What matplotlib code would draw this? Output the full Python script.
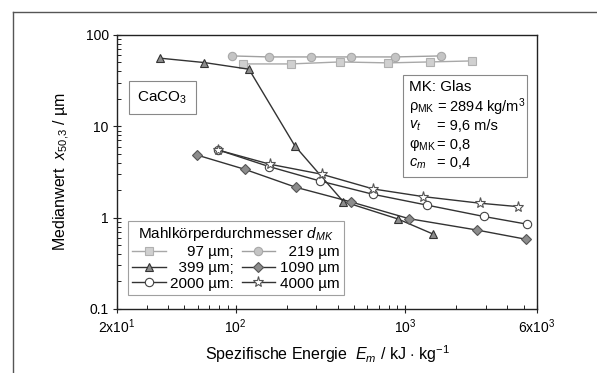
import numpy as np
import matplotlib
matplotlib.use('Agg')
import matplotlib.pyplot as plt
from matplotlib.lines import Line2D
from matplotlib.patches import Rectangle

plt.rcParams['font.family'] = ['Liberation Sans', 'DejaVu Sans']
plt.rcParams['mathtext.fontset'] = 'custom'
plt.rcParams['mathtext.rm'] = 'Liberation Sans'
plt.rcParams['mathtext.it'] = 'Liberation Sans:italic'
plt.rcParams['mathtext.bf'] = 'Liberation Sans:bold'

# Daten: spezifische Energie E_m [kJ/kg] und Medianwert x50,3 [µm]
e_97 = [111, 212, 413, 793, 1400, 2480]
x_97 = [48.2, 48.2, 50.7, 49.5, 50.7, 52.0]

e_219 = [95, 157, 279, 480, 871, 1627]
x_219 = [59, 57.5, 57.5, 57.5, 57.5, 59]

e_399 = [36, 65.5, 120, 224, 432, 904, 1466]
x_399 = [55.7, 49.9, 42.2, 6.1, 1.50, 0.97, 0.66]

e_1090 = [59, 113, 227, 478, 1054, 2643, 5165]
x_1090 = [4.86, 3.39, 2.15, 1.49, 0.975, 0.733, 0.58]

e_2000 = [79, 158, 315, 649, 1352, 2918, 5212]
x_2000 = [5.52, 3.62, 2.52, 1.80, 1.37, 1.03, 0.85]

e_4000 = [79, 160, 322, 650, 1280, 2761, 4645]
x_4000 = [5.5, 3.84, 2.99, 2.06, 1.70, 1.44, 1.32]

x_ticks = [20, 100, 1000, 6000]
x_ticklabels = ['2x10$^1$', '10$^2$', '10$^3$', '6x10$^3$']
y_ticks = [0.1, 1, 10, 100]
y_ticklabels = ['0.1', '1', '10', '100']

fig = plt.figure(figsize=(5.97, 3.73), dpi=100)
ax = fig.add_axes([0.196, 0.1716, 0.7035, 0.7346])

# Rahmen um die Abbildung (nur links und oben sichtbar)
fig.add_artist(Line2D([0.021, 0.021], [0, 0.968], color='#555555', lw=1.0,
                      transform=fig.transFigure))
fig.add_artist(Line2D([0.021, 1.0], [0.968, 0.968], color='#555555', lw=1.0,
                      transform=fig.transFigure))

dark = '#333333'
series = [
    (e_97, x_97, 's', '#d0d0d0', '#b0b0b0', '#a8a8a8', '\u2007\u200797 µm;'),
    (e_219, x_219, 'o', '#c4c4c4', '#a8a8a8', '#a0a0a0', '\u2007219 µm'),
    (e_399, x_399, '^', '#8c8c8c', dark, dark, '\u2007399 µm;'),
    (e_1090, x_1090, 'D', '#8c8c8c', '#555555', dark, '1090 µm'),
    (e_2000, x_2000, 'o', 'white', '#444444', dark, '2000 µm:'),
    (e_4000, x_4000, '*', 'white', '#555555', dark, '4000 µm'),
]

handles = []
for e, x, m, fc, ec, lc, lab in series:
    ms = 8 if m == '*' else (5 if m == 'D' else 6)
    h, = ax.plot(e, x, color=lc, lw=1.0, marker=m, markersize=ms,
                 markerfacecolor=fc, markeredgecolor=ec, markeredgewidth=0.8,
                 label=lab)
    handles.append(h)

ax.set_xscale('log')
ax.set_yscale('log')
ax.set_xlim(20, 6000)
ax.set_ylim(0.1, 100)
ax.set_xticks(x_ticks)
ax.set_xticklabels(x_ticklabels)
ax.set_yticks(y_ticks)
ax.set_yticklabels(y_ticklabels)
ax.tick_params(which='major', direction='inout', length=6, width=0.8,
               labelsize=10, color='#222222', pad=3)
ax.tick_params(which='minor', direction='in', length=3, width=0.7,
               color='#222222')
ax.tick_params(axis='x', which='minor', labelbottom=False)
ax.tick_params(axis='y', which='minor', labelleft=False)
for sp in ax.spines.values():
    sp.set_linewidth(1.0)
    sp.set_color('#222222')

ax.set_xlabel(r'Spezifische Energie  $E_m$ / kJ $\cdot$ kg$^{-1}$',
              fontsize=11.5, labelpad=5)
ax.set_ylabel(r'Medianwert  $x_{50{,}3}$ / µm', fontsize=11.5, labelpad=10)

# Legende: Reihenfolge zeilenweise (97, 219 / 399, 1090 / 2000, 4000)
order = [0, 2, 4, 1, 3, 5]
leg = ax.legend([handles[i] for i in order],
                [handles[i].get_label() for i in order],
                ncol=2, loc='lower left', bbox_to_anchor=(0.025, 0.05),
                title=r'Mahlkörperdurchmesser $d_{MK}$', title_fontsize=11,
                fontsize=11, frameon=True, fancybox=False, edgecolor='#888888',
                handlelength=2.2, handletextpad=0.3, columnspacing=0.5,
                labelspacing=0.12, borderpad=0.3, borderaxespad=0)
leg.get_frame().set_linewidth(0.8)

# Textfeld CaCO3
ax.text(0.108, 0.772, r'CaCO$_3$', transform=ax.transAxes, fontsize=11,
        ha='center', va='center',
        bbox=dict(boxstyle='square,pad=0.55', fc='white', ec='#888888', lw=0.8))

# Textfeld Versuchsparameter
ax.add_patch(Rectangle((0.681, 0.48), 0.296, 0.375, transform=ax.transAxes,
                       fc='white', ec='#888888', lw=0.8, zorder=3))
ax.text(0.695, 0.812, 'MK: Glas', transform=ax.transAxes, fontsize=11,
        ha='left', va='center', zorder=4)
syms = [r'ρ$_{\rm MK}$', r'$v_t$', r'φ$_{\rm MK}$', r'$c_m$']
vals = ['= 2894 kg/m$^3$', '= 9,6 m/s', '= 0,8', '= 0,4']
for i, (s, v) in enumerate(zip(syms, vals)):
    yy = 0.735 - i * 0.068
    ax.text(0.695, yy, s, transform=ax.transAxes, fontsize=10.5,
            ha='left', va='center', zorder=4)
    ax.text(0.762, yy, v, transform=ax.transAxes, fontsize=10.5,
            ha='left', va='center', zorder=4)

fig.savefig('out.png', dpi=100)
